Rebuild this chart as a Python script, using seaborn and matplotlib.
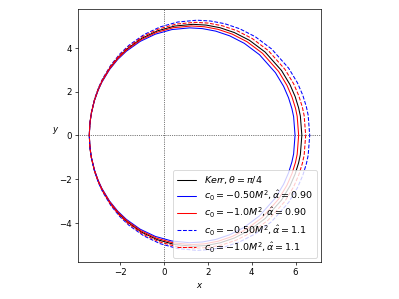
import seaborn as sns
import matplotlib.pyplot as plt
import pandas as pd

sns.set_style("ticks", {"axes.edgecolor": "black", "xtick.color": "black",
                        "ytick.color": "black", "text.color": "black",
                        "axes.labelcolor": "black"})

# upper half of each shadow contour (left edge -> right edge), lower half is the mirror image
kerr_x = [-3.420, -3.405, -3.388, -3.353, -3.319, -3.182, -3.008, -2.832, -2.467, -2.083, -1.676, -1.020, -0.304,
          0.475, 1.318, 1.917, 2.546, 3.204, 3.893, 4.612, 5.361, 5.747, 5.982, 6.141, 6.221, 6.289]
kerr_y = [0.0, 0.377, 0.582, 0.854, 1.057, 1.623, 2.113, 2.497, 3.100, 3.575, 3.965, 4.432, 4.773,
          4.990, 5.070, 5.035, 4.916, 4.694, 4.341, 3.802, 2.958, 2.314, 1.771, 1.257, 0.881, 0.0]

c050_a090_x = [-3.420, -3.406, -3.389, -3.355, -3.322, -3.190, -3.021, -2.851, -2.498, -2.126, -1.732, -1.097, -0.404,
               0.350, 1.166, 1.746, 2.355, 2.992, 3.659, 4.355, 5.080, 5.454, 5.681, 5.835, 5.913, 5.978]
c050_a090_y = [0.0, 0.365, 0.563, 0.827, 1.023, 1.571, 2.045, 2.417, 3.001, 3.461, 3.838, 4.290, 4.620,
               4.830, 4.908, 4.874, 4.759, 4.544, 4.202, 3.680, 2.863, 2.240, 1.714, 1.217, 0.853, 0.0]

c10_a090_x = [-3.420, -3.405, -3.389, -3.354, -3.321, -3.186, -3.014, -2.841, -2.481, -2.103, -1.702, -1.056, -0.351,
              0.417, 1.247, 1.837, 2.457, 3.105, 3.783, 4.492, 5.229, 5.610, 5.841, 5.998, 6.076, 6.143]
c10_a090_y = [0.0, 0.371, 0.573, 0.841, 1.041, 1.599, 2.081, 2.460, 3.054, 3.521, 3.906, 4.366, 4.701,
              4.915, 4.994, 4.959, 4.842, 4.624, 4.276, 3.745, 2.914, 2.279, 1.744, 1.238, 0.868, 0.0]

c050_a11_x = [-3.420, -3.404, -3.387, -3.351, -3.315, -3.173, -2.993, -2.810, -2.432, -2.034, -1.612, -0.931, -0.189,
              0.619, 1.493, 2.115, 2.767, 3.449, 4.164, 4.909, 5.686, 6.086, 6.330, 6.495, 6.578, 6.648]
c050_a11_y = [0.0, 0.391, 0.604, 0.886, 1.096, 1.683, 2.191, 2.589, 3.215, 3.707, 4.112, 4.596, 4.950,
              5.175, 5.258, 5.221, 5.098, 4.868, 4.502, 3.943, 3.067, 2.400, 1.837, 1.304, 0.914, 0.0]

c10_a11_x = [-3.420, -3.405, -3.387, -3.352, -3.317, -3.178, -3.001, -2.821, -2.450, -2.059, -1.645, -0.977, -0.248,
             0.545, 1.403, 2.013, 2.653, 3.323, 4.025, 4.757, 5.519, 5.912, 6.151, 6.313, 6.395, 6.464]
c10_a11_y = [0.0, 0.384, 0.592, 0.869, 1.076, 1.652, 2.151, 2.542, 3.156, 3.639, 4.036, 4.512, 4.859,
             5.080, 5.161, 5.126, 5.004, 4.778, 4.419, 3.870, 3.011, 2.356, 1.803, 1.280, 0.897, 0.0]

labels = [r"$Kerr, \theta = \pi/4$",
          r"$c_0 = -0.50M^2, \hat{\alpha} = 0.90$",
          r"$c_0 = -1.0M^2, \hat{\alpha} = 0.90$",
          r"$c_0 = -0.50M^2, \hat{\alpha} = 1.1$",
          r"$c_0 = -1.0M^2, \hat{\alpha} = 1.1$"]
curves = [(kerr_x, kerr_y), (c050_a090_x, c050_a090_y), (c10_a090_x, c10_a090_y),
          (c050_a11_x, c050_a11_y), (c10_a11_x, c10_a11_y)]
colors = ["black", "blue", "red", "blue", "red"]
styles = ["-", "-", "-", "--", "--"]


def closed(xs, ys):
    # go along the upper half, then back along the mirrored lower half
    return xs + xs[-2::-1], ys + [-v for v in ys[-2::-1]]


fig = plt.figure(figsize=(6.4, 4.8), dpi=62.35)
ax = fig.add_axes([0.193, 0.124, 0.614, 0.846])

ax.axhline(0, color="black", ls=":", lw=0.8)
ax.axvline(0, color="black", ls=":", lw=0.8)

for (xs, ys), lab, c, ls in zip(curves, labels, colors, styles):
    cx, cy = closed(xs, ys)
    df = pd.DataFrame({"x": cx, "y": cy})
    sns.lineplot(data=df, x="x", y="y", sort=False, estimator=None, color=c,
                 linestyle=ls, lw=1.2, label=lab, ax=ax)

ax.set_aspect("equal", adjustable="box")
ax.set_xlabel(r"$x$")
ax.set_ylabel(r"$y$", rotation=0)
ax.set_xticks([-2, 0, 2, 4, 6])
ax.set_yticks([-4, -2, 0, 2, 4])
ax.legend(loc="lower right", fontsize=11, handlelength=2.0, borderaxespad=0.4,
          labelspacing=0.3)

fig.savefig("out.png", dpi=62.35)
